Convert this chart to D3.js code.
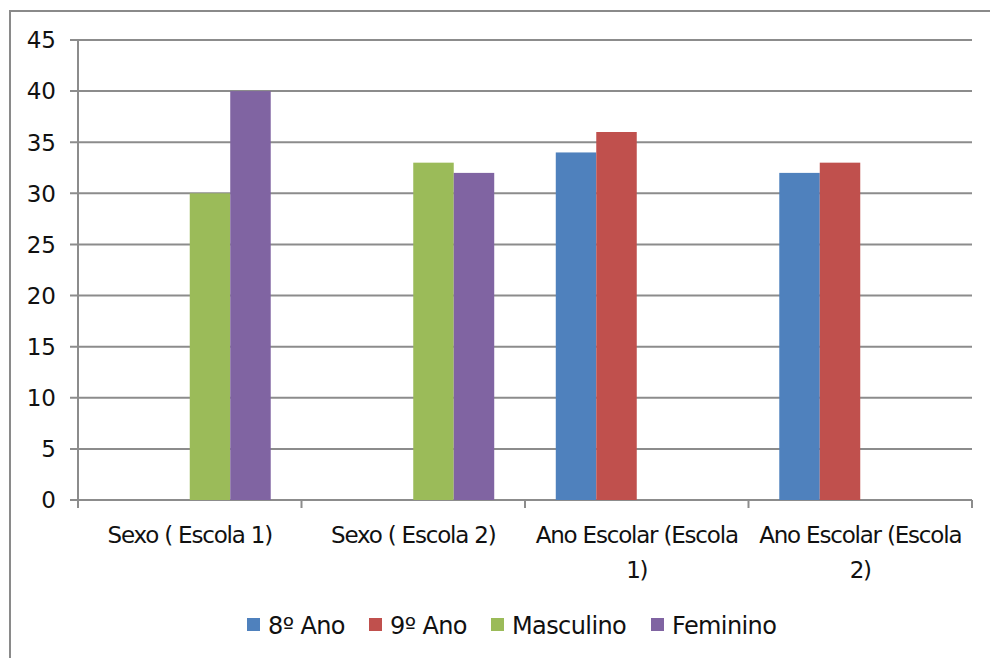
<!DOCTYPE html>
<html>
<head>
<meta charset="utf-8">
<script src="https://cdn.jsdelivr.net/npm/d3@7"></script>
<style>
  body { margin: 0; background: #fff; }
  svg { font-family: "DejaVu Sans", Verdana, sans-serif; }
</style>
</head>
<body>
<div id="chart"></div>
<script>
// Data
const categories = ["Sexo ( Escola 1)", "Sexo ( Escola 2)", "Ano Escolar (Escola 1)", "Ano Escolar (Escola 2)"];
const seriesNames = ["8º Ano", "9º Ano", "Masculino", "Feminino"];
const ano8 = [null, null, 34, 32];
const ano9 = [null, null, 36, 33];
const masculino = [30, 33, null, null];
const feminino = [40, 32, null, null];
const yTicks = [0, 5, 10, 15, 20, 25, 30, 35, 40, 45];
const colors = ["#4F81BD", "#C0504D", "#9BBB59", "#8064A2"];

const seriesValues = [ano8, ano9, masculino, feminino];

const W = 990, H = 658;
const margin = { top: 40, right: 18, bottom: 158, left: 78 };
const width = W - margin.left - margin.right,
      height = H - margin.top - margin.bottom;

const svg = d3.select("#chart")
  .append("svg")
  .attr("width", W)
  .attr("height", H);

// outer frame
svg.append("rect")
  .attr("x", 10).attr("y", 11)
  .attr("width", W + 20).attr("height", H + 20)
  .attr("fill", "#fff")
  .attr("stroke", "#8a8a8a")
  .attr("stroke-width", 2);

const g = svg.append("g")
  .attr("transform", `translate(${margin.left},${margin.top})`);

const x0 = d3.scaleBand().domain(categories).range([0, width]);
const x1 = d3.scaleBand().domain(seriesNames).range([0, x0.bandwidth()]).paddingOuter(0.76);
const y = d3.scaleLinear().domain([0, 45]).range([height, 0]);

// gridlines
g.append("g")
  .selectAll("line")
  .data(yTicks)
  .join("line")
  .attr("x1", -8)
  .attr("x2", width)
  .attr("y1", d => y(d))
  .attr("y2", d => y(d))
  .attr("stroke", "#8c8c8c")
  .attr("stroke-width", 2);

// y axis line
g.append("line")
  .attr("x1", 0).attr("x2", 0)
  .attr("y1", 0).attr("y2", height + 8)
  .attr("stroke", "#8c8c8c")
  .attr("stroke-width", 2);

// y tick labels
g.append("g")
  .selectAll("text")
  .data(yTicks)
  .join("text")
  .attr("x", -22)
  .attr("y", d => y(d))
  .attr("dy", "0.36em")
  .attr("text-anchor", "end")
  .style("font-size", "23px")
  .attr("fill", "#111")
  .text(d => d);

// bars
seriesNames.forEach((s, i) => {
  g.append("g")
    .selectAll("rect")
    .data(seriesValues[i].map((v, j) => ({ cat: categories[j], v })).filter(d => d.v != null))
    .join("rect")
    .attr("x", d => x0(d.cat) + x1(s))
    .attr("y", d => y(d.v))
    .attr("width", x1.bandwidth())
    .attr("height", d => height - y(d.v))
    .attr("fill", colors[i]);
});

// x axis ticks at category boundaries
const bounds = categories.map(c => x0(c)).concat([width]);
g.append("g")
  .selectAll("line")
  .data(bounds)
  .join("line")
  .attr("x1", d => d).attr("x2", d => d)
  .attr("y1", height).attr("y2", height + 8)
  .attr("stroke", "#8c8c8c")
  .attr("stroke-width", 2);

// category labels (wrapped like the original)
const wrapped = [["Sexo ( Escola 1)"], ["Sexo ( Escola 2)"], ["Ano Escolar (Escola", "1)"], ["Ano Escolar (Escola", "2)"]];
categories.forEach((c, i) => {
  const t = g.append("text")
    .attr("text-anchor", "middle")
    .style("font-size", "23px")
    .style("letter-spacing", "-1.2px")
    .attr("fill", "#111")
    .attr("y", height + 43);
  wrapped[i].forEach((line, k) => {
    t.append("tspan")
      .attr("x", x0(c) + x0.bandwidth() / 2)
      .attr("dy", k === 0 ? 0 : 35)
      .text(line);
  });
});

// legend
const legendX = [247, 369, 491, 651];
const legend = svg.append("g").attr("transform", "translate(0,625)");
seriesNames.forEach((s, i) => {
  legend.append("rect")
    .attr("x", legendX[i]).attr("y", -7)
    .attr("width", 13).attr("height", 13)
    .attr("fill", colors[i]);
  legend.append("text")
    .attr("x", legendX[i] + 21)
    .attr("y", 0)
    .attr("dy", "0.36em")
    .style("font-size", "24px")
    .style("letter-spacing", "-0.6px")
    .attr("fill", "#111")
    .text(s);
});
</script>
</body>
</html>
